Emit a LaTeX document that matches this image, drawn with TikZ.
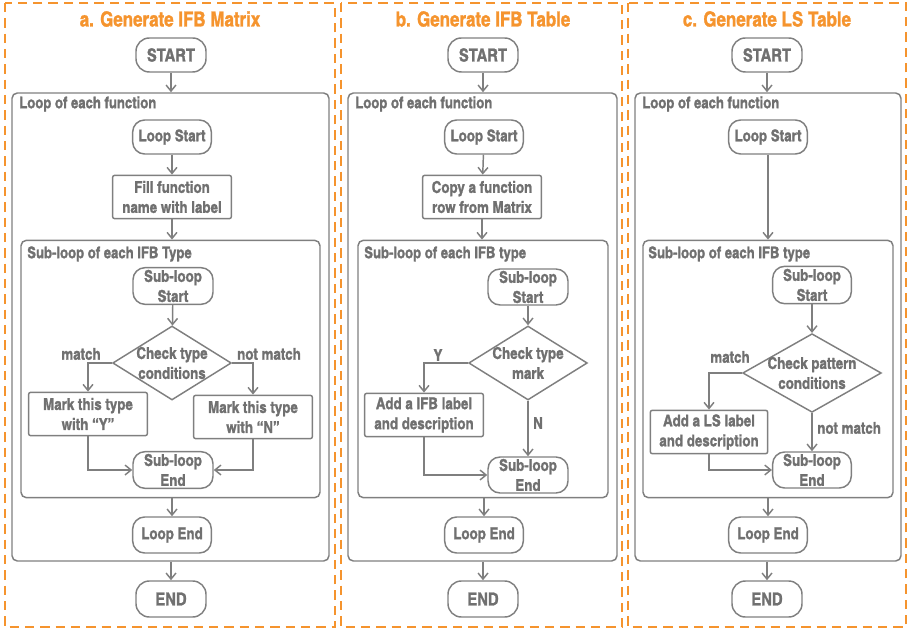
\documentclass[tikz,border=0pt]{standalone}
\usepackage{fontspec}
\setmainfont{texgyreheroscn-regular.otf}[BoldFont=texgyreheroscn-bold.otf,BoldFeatures={FakeBold=1.3}]
\usetikzlibrary{arrows.meta,positioning,shapes.geometric}
\definecolor{ink}{HTML}{707070}
\definecolor{edge}{HTML}{7F7F7F}
\definecolor{amber}{HTML}{F5942E}
\tikzset{panel/.style={draw=amber,line width=1.5pt,dash pattern=on 7pt off 4.5pt}, title/.style={text=amber,font=\bfseries\fontsize{15.5}{18}\selectfont,inner sep=0pt}, frame/.style={draw=edge,line width=1.1pt,rounded corners=4pt}, grp/.style={text=ink,font=\bfseries\fontsize{12}{14}\selectfont,anchor=west,inner sep=0pt}, term/.style={draw=edge,line width=1.1pt,rounded corners=10pt,text=ink,align=center,font=\bfseries\fontsize{13.5}{15}\selectfont,inner sep=0pt}, pill/.style={draw=edge,line width=1.1pt,rounded corners=9pt,text=ink,align=center,font=\bfseries\fontsize{12.2}{15}\selectfont,inner sep=0pt}, proc/.style={draw=edge,line width=1.1pt,rounded corners=1.5pt,text=ink,align=center,font=\bfseries\fontsize{12.2}{15}\selectfont,inner sep=0pt,minimum width=89pt,minimum height=32.5pt}, check/.style={diamond,aspect=1.6,draw=edge,line width=1.1pt,text=ink,align=center,font=\bfseries\fontsize{12.2}{15}\selectfont,inner sep=-1.5pt,minimum width=89pt,minimum height=55.5pt}, lbl/.style={text=ink,font=\bfseries\fontsize{12.2}{14}\selectfont,inner sep=0pt}, flow/.style={-{Straight Barb[length=1.6mm,width=2.6mm]},line width=1.1pt,draw=edge}}
\begin{document}
\begin{tikzpicture}[x=0.75pt,y=-0.75pt]
\useasboundingbox (0,0) rectangle (909,630);
% three panels
\foreach \n/\l/\r/\c/\t in {a/5/335/170/a. Generate IFB Matrix, b/341/622/483/b. Generate IFB Table, c/628/906/767/c. Generate LS Table}{
  \draw[panel] (\l,3) rectangle (\r,627);
  \node[title] (title-\n) at (\c,19) {\t};
}
% parts every panel has
\foreach \n/\c/\lc/\lw/\sc/\sw in {a/171/170.5/317/170.5/299, b/483/482.5/269/483/250, c/767/768/266/768/250}{
  \node[term,minimum width=52.5pt,minimum height=25.5pt] (start-\n) at (\c,55) {START};
  \node[frame,minimum width=\lw*0.75pt,minimum height=351pt] (loop-\n) at (\lc,327) {};
  \node[grp] (looplbl-\n) at (\lc-\lw/2+7,104) {Loop of each function};
  \node[pill,minimum width=59pt,minimum height=25.5pt] (ls-\n) at (\c+1,137) {Loop Start};
  \node[frame,minimum width=\sw*0.75pt,minimum height=193pt] (sub-\n) at (\sc,369) {};
  \node[pill,minimum width=59pt,minimum height=27pt] (le-\n) at (\c+1,535) {Loop End};
  \node[term,minimum width=52.5pt,minimum height=27pt] (end-\n) at (\c,599) {END};
  \draw[flow] (start-\n) -- (start-\n |- loop-\n.north);
  \draw[flow] (le-\n |- sub-\n.south) -- (le-\n);
  \draw[flow] (end-\n |- loop-\n.south) -- (end-\n);
}
% a. IFB matrix
\node[grp] (sublbl-a) at (27,254) {Sub-loop of each IFB Type};
\node[proc] (fill) at (172,197) {Fill function\\name with label};
\node[pill,minimum width=60pt,minimum height=27.5pt] (ss-a) at (173,286) {Sub-loop\\Start};
\node[check] (ck-a) at (172,363) {Check type\\conditions};
\node[proc] (mark-y) at (88,414) {Mark this type\\with “Y”};
\node[proc] (mark-n) at (253,417) {Mark this type\\with “N”};
\node[pill,minimum width=60pt,minimum height=27.5pt] (se-a) at (173,470) {Sub-loop\\End};
\node[lbl] (match-a) at (81,354) {match};
\node[lbl] (nomatch-a) at (269,354) {not match};
\draw[flow] (ls-a) -- (fill);
\draw[flow] (fill) -- (fill |- sub-a.north);
\draw[flow] (ss-a) -- (ck-a);
\draw[flow] (ck-a) -| (mark-y);
\draw[flow] (ck-a) -| (mark-n);
\draw[flow] (mark-y) |- (se-a);
\draw[flow] (mark-n) |- (se-a);
% b. IFB table
\node[grp] (sublbl-b) at (364,254) {Sub-loop of each IFB type};
\node[proc] (copy) at (482,197) {Copy a function\\row from Matrix};
\node[pill,minimum width=60pt,minimum height=27pt] (ss-b) at (528,287) {Sub-loop\\Start};
\node[check] (ck-b) at (528,363) {Check type\\mark};
\node[proc] (add-b) at (424,415) {Add a IFB label\\and description};
\node[pill,minimum width=60pt,minimum height=27pt] (se-b) at (528,475) {Sub-loop\\End};
\node[lbl] (yes-b) at (438,355) {Y};
\node[lbl] (no-b) at (538,423) {N};
\draw[flow] (ls-b) -- (copy);
\draw[flow] (copy) -- (copy |- sub-b.north);
\draw[flow] (ss-b) -- (ck-b);
\draw[flow] (ck-b) -| (add-b);
\draw[flow] (ck-b) -- (se-b);
\draw[flow] (add-b) |- (se-b);
% c. LS table
\node[grp] (sublbl-c) at (648,254) {Sub-loop of each IFB type};
\node[pill,minimum width=59pt,minimum height=28pt] (ss-c) at (812,285) {Sub-loop\\Start};
\node[check,aspect=1.76,minimum width=104pt,minimum height=59pt] (ck-c) at (812,373) {Check pattern\\conditions};
\node[proc,minimum width=88pt] (add-c) at (709,432) {Add a LS label\\and description};
\node[pill,minimum width=59pt,minimum height=27pt] (se-c) at (812,470) {Sub-loop\\End};
\node[lbl] (match-c) at (730,357) {match};
\node[lbl,anchor=west] (nomatch-c) at (817,428) {not match};
\draw[flow] (ls-c) -- (ls-c |- sub-c.north);
\draw[flow] (ss-c) -- (ck-c);
\draw[flow] (ck-c) -| (add-c);
\draw[flow] (ck-c) -- (se-c);
\draw[flow] (add-c) |- (se-c);
\end{tikzpicture}
\end{document}
